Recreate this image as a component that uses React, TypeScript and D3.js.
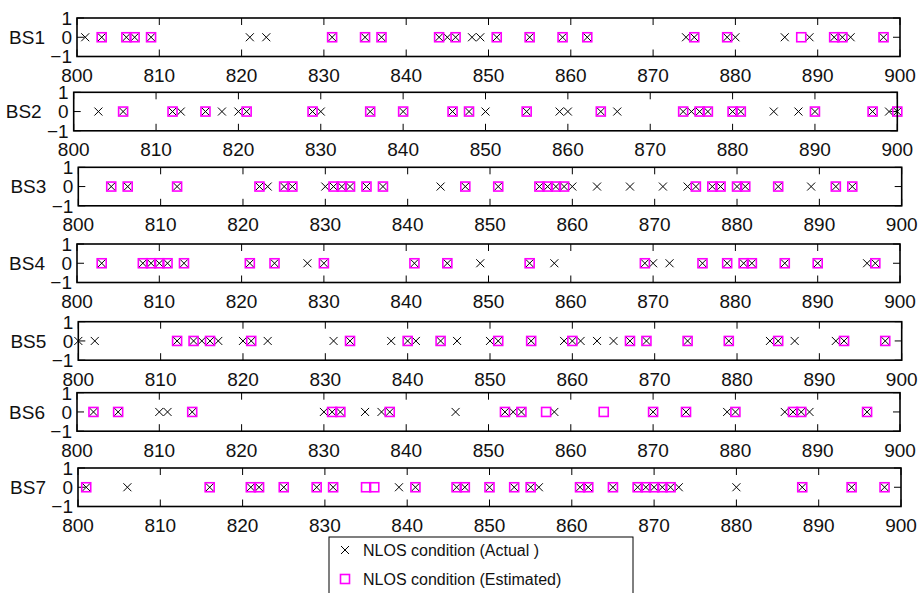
import { useEffect, useRef } from 'react'
import * as d3 from 'd3'

const WIDTH = 921
const HEIGHT = 593

const STATIONS = ['BS1', 'BS2', 'BS3', 'BS4', 'BS5', 'BS6', 'BS7']
const X_TICKS = [800, 810, 820, 830, 840, 850, 860, 870, 880, 890, 900]
const Y_TICKS = [-1, 0, 1]

// positions where NLOS happened, per base station
const BS1_ACTUAL = [801, 803, 806, 807, 809, 821, 823, 831, 835, 837, 844, 845, 846, 848, 849, 851, 855, 859, 862, 874, 875, 879, 880, 886, 889, 892, 893, 894, 898]
const BS1_EST = [803, 806, 807, 809, 831, 835, 837, 844, 846, 851, 855, 859, 862, 875, 879, 888, 892, 893, 898]

const BS2_ACTUAL = [803, 806, 812, 813, 816, 818, 820, 821, 829, 830, 836, 840, 846, 848, 850, 855, 859, 860, 864, 866, 874, 875, 876, 877, 880, 881, 885, 888, 890, 897, 899, 900]
const BS2_EST = [806, 812, 816, 821, 829, 836, 840, 846, 848, 855, 864, 874, 876, 877, 880, 881, 890, 897, 900]

const BS3_ACTUAL = [804, 806, 812, 822, 823, 825, 826, 830, 831, 832, 833, 835, 837, 844, 847, 851, 856, 857, 858, 859, 860, 863, 867, 871, 874, 875, 877, 878, 880, 881, 885, 889, 892, 894]
const BS3_EST = [804, 806, 812, 822, 825, 826, 831, 832, 833, 835, 837, 847, 851, 856, 857, 858, 859, 875, 877, 878, 880, 881, 885, 892, 894]

const BS4_ACTUAL = [803, 808, 809, 810, 811, 813, 821, 824, 828, 830, 841, 845, 849, 855, 858, 869, 870, 872, 876, 879, 881, 882, 886, 890, 896, 897]
const BS4_EST = [803, 808, 809, 810, 811, 813, 821, 824, 830, 841, 845, 855, 869, 876, 879, 881, 882, 886, 890, 897]

const BS5_ACTUAL = [800, 802, 812, 814, 815, 816, 817, 820, 821, 823, 831, 833, 838, 840, 841, 844, 846, 850, 851, 855, 859, 860, 861, 863, 865, 867, 869, 874, 879, 884, 885, 887, 892, 893, 898]
const BS5_EST = [812, 814, 816, 821, 833, 840, 844, 851, 855, 860, 867, 869, 874, 879, 885, 893, 898]

const BS6_ACTUAL = [802, 805, 810, 811, 814, 830, 831, 832, 835, 837, 838, 846, 852, 853, 854, 858, 870, 874, 879, 880, 886, 887, 888, 889, 896]
const BS6_EST = [802, 805, 814, 831, 832, 838, 852, 854, 857, 864, 870, 874, 880, 887, 888, 896]

const BS7_ACTUAL = [801, 806, 816, 821, 822, 825, 829, 831, 839, 841, 846, 847, 850, 853, 855, 856, 861, 862, 865, 868, 869, 870, 871, 872, 873, 880, 888, 894, 898]
const BS7_EST = [801, 816, 821, 822, 825, 829, 831, 835, 836, 841, 846, 847, 850, 853, 855, 861, 862, 865, 868, 869, 870, 871, 872, 888, 894, 898]

const ACTUAL = [BS1_ACTUAL, BS2_ACTUAL, BS3_ACTUAL, BS4_ACTUAL, BS5_ACTUAL, BS6_ACTUAL, BS7_ACTUAL]
const ESTIMATED = [BS1_EST, BS2_EST, BS3_EST, BS4_EST, BS5_EST, BS6_EST, BS7_EST]

const LEGEND_LABELS = ['NLOS condition (Actual )', 'NLOS condition (Estimated)']

// each subplot sits slightly differently in the composite figure
const PANELS = [
  { top: 18, left: 77, right: 900 },
  { top: 92.3, left: 73.7, right: 897.3 },
  { top: 167.3, left: 78.3, right: 901.7 },
  { top: 244, left: 77, right: 900 },
  { top: 321.7, left: 78.3, right: 901.7 },
  { top: 392.7, left: 77, right: 900 },
  { top: 468, left: 78, right: 901 },
]
const PANEL_H = 38.5
const TICK = 7
const FONT = '"Liberation Sans", Arial, Helvetica, sans-serif'
const MAGENTA = '#FF00FF'

function drawCross(g, x, y, r) {
  g.append('path')
    .attr('d', `M${x - r},${y - r}L${x + r},${y + r}M${x - r},${y + r}L${x + r},${y - r}`)
    .attr('stroke', '#000')
    .attr('stroke-width', 1)
    .attr('fill', 'none')
}

function drawSquare(g, x, y, s) {
  g.append('rect')
    .attr('x', x - s / 2)
    .attr('y', y - s / 2)
    .attr('width', s)
    .attr('height', s)
    .attr('fill', 'none')
    .attr('stroke', MAGENTA)
    .attr('stroke-width', 1.6)
}

export default function App() {
  const svgRef = useRef(null)

  useEffect(() => {
    document.body.style.margin = '0'
    const svg = d3.select(svgRef.current)
    svg.selectAll('*').remove()

    PANELS.forEach((p, i) => {
      const x = d3.scaleLinear().domain([800, 900]).range([p.left, p.right])
      const y = d3.scaleLinear().domain([-1, 1]).range([p.top + PANEL_H, p.top])
      const g = svg.append('g')

      g.append('rect')
        .attr('x', p.left)
        .attr('y', p.top)
        .attr('width', p.right - p.left)
        .attr('height', PANEL_H)
        .attr('fill', '#fff')

      // x ticks, inward on top and bottom
      X_TICKS.forEach(t => {
        g.append('line')
          .attr('x1', x(t)).attr('x2', x(t))
          .attr('y1', y(-1)).attr('y2', y(-1) - TICK)
          .attr('stroke', '#000').attr('stroke-width', 1)
        g.append('line')
          .attr('x1', x(t)).attr('x2', x(t))
          .attr('y1', y(1)).attr('y2', y(1) + TICK)
          .attr('stroke', '#000').attr('stroke-width', 1)
        g.append('text')
          .attr('x', x(t))
          .attr('y', y(-1) + 25.5)
          .attr('text-anchor', 'middle')
          .attr('font-family', FONT)
          .attr('font-size', 19)
          .attr('fill', '#111')
          .text(t)
      })

      // y ticks
      Y_TICKS.forEach(t => {
        g.append('line')
          .attr('x1', p.left).attr('x2', p.left + TICK)
          .attr('y1', y(t)).attr('y2', y(t))
          .attr('stroke', '#000').attr('stroke-width', 1)
        g.append('line')
          .attr('x1', p.right).attr('x2', p.right - TICK)
          .attr('y1', y(t)).attr('y2', y(t))
          .attr('stroke', '#000').attr('stroke-width', 1)
        g.append('text')
          .attr('x', p.left - 5)
          .attr('y', y(t))
          .attr('dy', '0.36em')
          .attr('text-anchor', 'end')
          .attr('font-family', FONT)
          .attr('font-size', 19)
          .attr('fill', '#111')
          .text(t < 0 ? `\u2212${Math.abs(t)}` : t)
      })

      g.append('text')
        .attr('x', p.left - 32)
        .attr('y', y(0))
        .attr('dy', '0.36em')
        .attr('text-anchor', 'end')
        .attr('font-family', FONT)
        .attr('font-size', 19)
        .attr('fill', '#111')
        .text(STATIONS[i])

      ACTUAL[i].forEach(v => drawCross(g, x(v), y(0), 4))
      ESTIMATED[i].forEach(v => drawSquare(g, x(v), y(0), 9))

      g.append('rect')
        .attr('x', p.left)
        .attr('y', p.top)
        .attr('width', p.right - p.left)
        .attr('height', PANEL_H)
        .attr('fill', 'none')
        .attr('stroke', '#000')
        .attr('stroke-width', 1.6)
    })

    // legend
    const lg = svg.append('g')
    lg.append('rect')
      .attr('x', 329)
      .attr('y', 537)
      .attr('width', 304)
      .attr('height', 70)
      .attr('fill', '#fff')
      .attr('stroke', '#000')
      .attr('stroke-width', 1)
    const rows = [550, 579]
    drawCross(lg, 345, rows[0], 4)
    drawSquare(lg, 345, rows[1], 9)
    LEGEND_LABELS.forEach((label, k) => {
      lg.append('text')
        .attr('x', 363)
        .attr('y', rows[k])
        .attr('dy', '0.36em')
        .attr('font-family', FONT)
        .attr('font-size', 16)
        .attr('fill', '#111')
        .text(label)
    })
  }, [])

  return <svg ref={svgRef} width={WIDTH} height={HEIGHT} style={{ display: 'block' }} />
}
